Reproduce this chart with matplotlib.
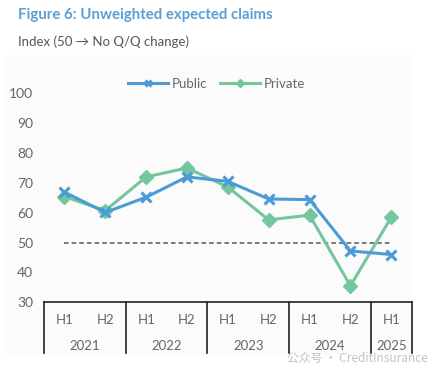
import matplotlib
matplotlib.use("Agg")
import matplotlib.pyplot as plt
from matplotlib.patches import Rectangle

plt.rcParams['font.family'] = ['Lato', 'DejaVu Sans']

# data
halves = ["H1", "H2", "H1", "H2", "H1", "H2", "H1", "H2", "H1"]
years = ["2021", "2022", "2023", "2024", "2025"]
year_span = [2, 2, 2, 2, 1]  # number of halves per year
public = [66.9, 60.1, 65.2, 72.0, 70.5, 64.6, 64.4, 47.2, 46.0]
private = [65.4, 60.7, 72.0, 75.0, 68.6, 57.6, 59.2, 35.5, 58.5]
neutral = 50

blue = "#4a9bd6"
green = "#74c69d"
gray = "#666666"

fig = plt.figure(figsize=(4.47, 3.70), dpi=100)
fig.patch.set_facecolor("white")
# light chart area background
fig.patches.append(Rectangle((5 / 447, 1 - 355 / 370), 407 / 447, 300 / 370,
                             transform=fig.transFigure, facecolor="#fbfbfb",
                             edgecolor="none", zorder=-5))

fig.text(18 / 447, 1 - 15 / 370, "Figure 6: Unweighted expected claims",
         color="#5a9fd5", fontsize=10.8, fontweight="bold", va="center")
fig.text(18 / 447, 1 - 42 / 370, "Index (50 \u2192 No Q/Q change)",
         color="#555555", fontsize=9.5, va="center")

ax = fig.add_axes([44 / 447, 67.7 / 370, 367.7 / 447, 209 / 370])
ax.set_facecolor("none")

x = list(range(len(halves)))
ax.plot(x, [neutral] * len(x), color="#555555", lw=1.1, ls=(0, (3, 2)), zorder=1)
ax.plot(x, public, color=blue, lw=2.2, marker="x", ms=7.5, mew=2.2, label="Public", zorder=3)
ax.plot(x, private, color=green, lw=2.2, marker="D", ms=7, label="Private", zorder=2)

ax.set_xlim(-0.5, len(x) - 0.5)
ax.set_ylim(30, 100)
ax.set_yticks(range(30, 101, 10))
ax.tick_params(axis="y", length=0, labelsize=10, labelcolor=gray, pad=8)
ax.set_xticks([])
for s in ["left", "right", "top"]:
    ax.spines[s].set_visible(False)
ax.spines["bottom"].set_color("#222222")
ax.spines["bottom"].set_linewidth(1.2)

# multi-level category axis
trans = ax.get_xaxis_transform()
for i, h in enumerate(halves):
    ax.text(i, -0.086, h, transform=trans, ha="center", va="center",
            fontsize=9.5, color=gray)
pos = -0.5
bounds = [pos]
for yr, n in zip(years, year_span):
    ax.text(pos + n / 2, -0.21, yr, transform=trans, ha="center", va="center",
            fontsize=9.5, color=gray)
    pos += n
    bounds.append(pos)
for b in bounds:
    ax.plot([b, b], [0, -0.244], transform=trans, color="#222222", lw=1.2,
            clip_on=False)

ax.legend(loc="upper center", bbox_to_anchor=(0.47, 1.13), ncol=2, frameon=False,
          fontsize=9.5, labelcolor=gray, handlelength=3, columnspacing=1.0,
          handletextpad=0.3, markerscale=0.6)

# watermark
fig.text(287 / 447, 1 - 358 / 370, "公众号 · CreditInsurance",
         family=['Noto Sans CJK SC', 'DejaVu Sans'], fontsize=8.5,
         color="#999999", alpha=0.6, va="center")

fig.savefig("out.png", dpi=100)
